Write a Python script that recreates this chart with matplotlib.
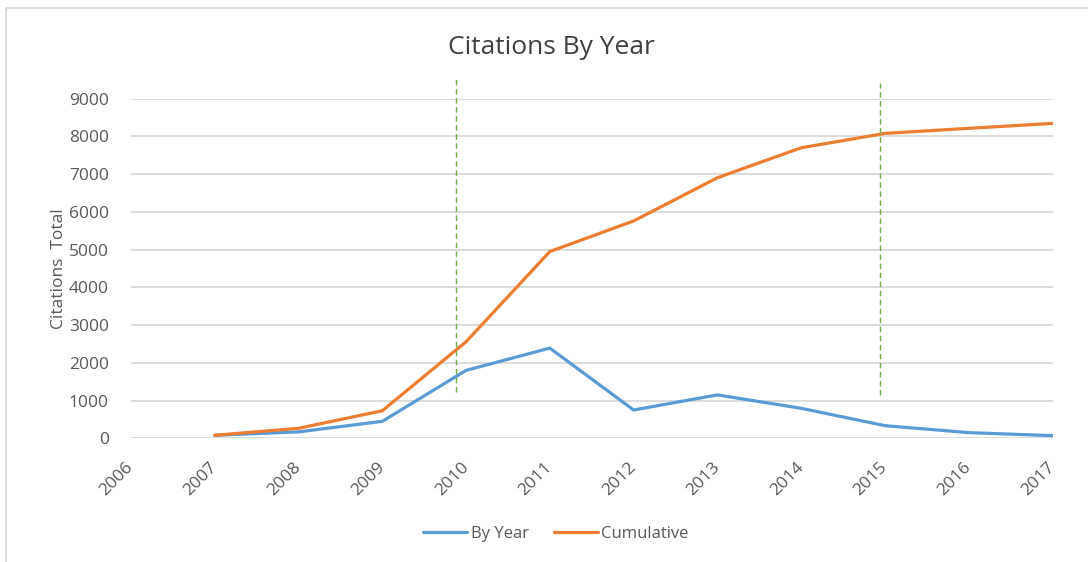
import matplotlib
matplotlib.use("Agg")
import matplotlib.pyplot as plt
from matplotlib.patches import Rectangle

years = [2006, 2007, 2008, 2009, 2010, 2011, 2012, 2013, 2014, 2015, 2016, 2017]
data_years = [2007, 2008, 2009, 2010, 2011, 2012, 2013, 2014, 2015, 2016, 2017]
by_year = [80, 170, 450, 1800, 2390, 750, 1150, 795, 335, 150, 70]
cumulative = [80, 265, 730, 2560, 4950, 5760, 6905, 7700, 8080, 8215, 8345]
yticks = [0, 1000, 2000, 3000, 4000, 5000, 6000, 7000, 8000, 9000]
marker_years = [2009.88, 2014.94]
marker_low = [1227, 1148]
marker_high = [9550, 9420]

TXT = "#595959"
FONT = ["Open Sans", "DejaVu Sans"]

fig = plt.figure(figsize=(10.88, 5.62), dpi=100)
ax = fig.add_axes([131/1088, 1 - 438.3/562, (1052.5-131)/1088, (438.3-98.7)/562])

ax.set_xlim(years[0], years[-1])
ax.set_ylim(0, 9000)
ax.set_yticks(yticks)
ax.set_xticks(years)
ax.grid(axis="y", color="#D9D9D9", linewidth=1.3)
ax.set_axisbelow(True)
for s in ax.spines.values():
    s.set_visible(False)
ax.tick_params(length=0, colors=TXT)
ax.tick_params(axis="y", pad=16)
for lab in ax.get_yticklabels():
    lab.set_fontfamily(FONT)
    lab.set_fontsize(12.5)
    lab.set_color(TXT)
ax.set_xticklabels([str(y) for y in years], rotation=45, ha="right",
                   va="center", rotation_mode="anchor", fontsize=12.5,
                   family=FONT, color=TXT)
ax.tick_params(axis="x", pad=19)

l1, = ax.plot(data_years, by_year, color="#5B9BD5", linewidth=2.3,
              solid_joinstyle="round", solid_capstyle="round", label="By Year")
l2, = ax.plot(data_years, cumulative, color="#ED7D31", linewidth=2.3,
              solid_joinstyle="round", solid_capstyle="round", label="Cumulative")

for xm, lo, hi in zip(marker_years, marker_low, marker_high):
    ax.plot([xm, xm], [lo, hi], color="#70AD47", linewidth=1.0,
            linestyle=(0, (4, 2.5)), clip_on=False, zorder=3)

ax.set_ylabel("Citations  Total", fontsize=12.5, family=FONT, color=TXT, labelpad=1)

fig.text(551/1088, 1 - 48/562, "Citations By Year", ha="center", va="center",
         fontsize=19, family=FONT, color="#404040")

leg = fig.legend(handles=[l1, l2], loc="center", bbox_to_anchor=(556/1088, 1 - 534/562),
                 ncol=2, frameon=False, handlelength=2.65,
                 handletextpad=0.2, columnspacing=1.5,
                 prop={"family": FONT, "size": 12})
for t in leg.get_texts():
    t.set_color(TXT)

fig.patches.append(Rectangle((6/1088, -0.1), 1.2, 1 - 8/562 + 0.1,
                             transform=fig.transFigure, fill=False,
                             edgecolor="#D9D9D9", linewidth=1.3))

fig.savefig("out.png", dpi=100, facecolor="white")
